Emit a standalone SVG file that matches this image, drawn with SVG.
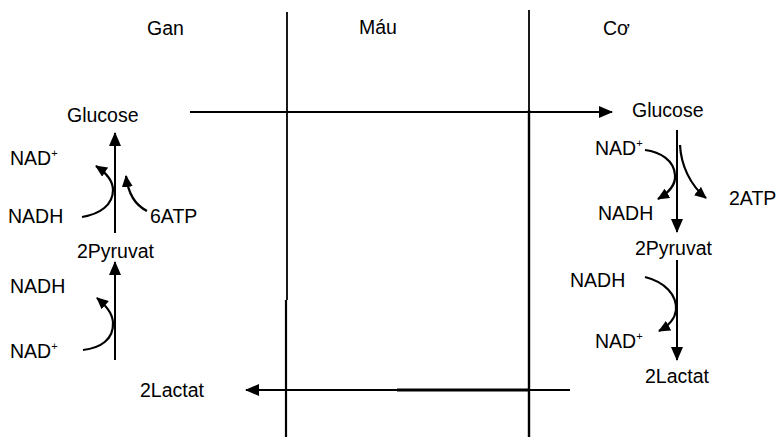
<svg xmlns="http://www.w3.org/2000/svg" width="782" height="443" viewBox="0 0 782 443">
<style>
text{font-family:"Liberation Sans",Arial,sans-serif;font-size:19.5px;fill:#000}
.sup{font-size:11px}
.ln{stroke:#000;stroke-width:1.8;fill:none}
.ar{stroke:#000;stroke-width:2;fill:none;marker-end:url(#ah)}
.cv{stroke:#000;stroke-width:2.2;fill:none;marker-end:url(#ah2)}
</style>
<defs>
<marker id="ah" markerUnits="userSpaceOnUse" markerWidth="14" markerHeight="12" refX="13" refY="6" orient="auto"><path d="M0,0 L14,6 L0,12 Z" fill="#000"/></marker>
<marker id="ah2" markerUnits="userSpaceOnUse" markerWidth="12" markerHeight="11" refX="11" refY="5.5" orient="auto"><path d="M0,0 L12,5.5 L0,11 Z" fill="#000"/></marker>
</defs>
<rect width="782" height="443" fill="#fff"/>
<g id="headers">
<text x="147" y="35">Gan</text>
<text x="359" y="34">Máu</text>
<text x="603" y="35">Cơ</text>
</g>
<g id="dividers">
<path class="ln" d="M287,12 V300"/>
<path class="ln" d="M286,300 V437" style="stroke-width:2.2"/>
<path class="ln" d="M529,10 V110"/>
<path class="ln" d="M529,110 V437" style="stroke-width:2.4"/>
</g>
<g id="liver">
<text id="gan-glucose" x="67" y="122">Glucose</text>
<text id="gan-nadp1" x="10" y="165">NAD<tspan class="sup" dy="-8">+</tspan></text>
<text id="gan-nadh1" x="8" y="223">NADH</text>
<text id="gan-atp" x="150" y="223">6ATP</text>
<text id="gan-pyr" x="77" y="258">2Pyruvat</text>
<text id="gan-nadh2" x="10" y="293">NADH</text>
<text id="gan-nadp2" x="10" y="358">NAD<tspan class="sup" dy="-8">+</tspan></text>
<text id="gan-lac" x="140" y="397">2Lactat</text>
</g>
<g id="muscle">
<text id="co-glucose" x="632" y="117">Glucose</text>
<text id="co-nadp1" x="595" y="155">NAD<tspan class="sup" dy="-8">+</tspan></text>
<text id="co-nadh1" x="598" y="220">NADH</text>
<text id="co-atp" x="729" y="205">2ATP</text>
<text id="co-pyr" x="635" y="255">2Pyruvat</text>
<text id="co-nadh2" x="570" y="287">NADH</text>
<text id="co-nadp2" x="595" y="348">NAD<tspan class="sup" dy="-8">+</tspan></text>
<text id="co-lac" x="645" y="383">2Lactat</text>
</g>
<g id="connectors">
<path class="ar" d="M190,112 H612"/>
<path class="ar" d="M570,390 H246"/>
<path class="ln" d="M397,390 H529" style="stroke-width:3"/>
<path class="ar" d="M115,233 V133"/>
<path class="ar" d="M115,360 V262"/>
<path class="cv" d="M82,217 C100,214 113,205 113,190 C113,180 105,172 96,166"/>
<path class="cv" d="M147,211 C135,205 128,193 126,176"/>
<path class="cv" d="M83,350 C100,348 114,340 113,322 C112,312 105,305 97,298"/>
<path class="ar" d="M677,130 V232"/>
<path class="ar" d="M677,260 V360"/>
<path class="cv" d="M645,150 C660,152 674,160 675,175 C676,186 668,193 658,199"/>
<path class="cv" d="M680,145 C681,165 690,185 706,198"/>
<path class="cv" d="M645,277 C665,282 677,295 676,310 C675,320 668,326 659,331"/>
</g>
</svg>
